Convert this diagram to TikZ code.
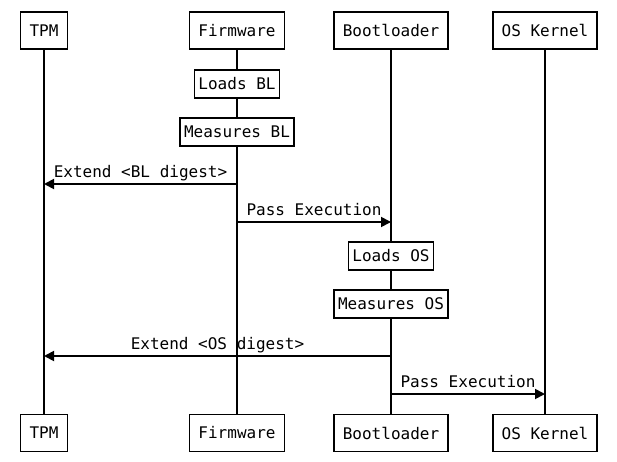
\documentclass[tikz,border=0pt]{standalone}
\usepackage{fontspec}
\setmainfont{DejaVu Sans Mono}
\usetikzlibrary{arrows.meta}

\tikzset{
  actor/.style={draw, line width=1.8pt, fill=white, minimum height=37pt,
    inner xsep=9pt, font=\fontsize{16}{19}\selectfont},
  task/.style={draw, line width=1.8pt, fill=white, minimum height=28pt,
    inner xsep=4pt, font=\fontsize{16}{19}\selectfont},
  life/.style={line width=1.8pt},
  msg/.style={line width=1.8pt, -{Triangle[length=10pt,width=10pt]}},
  msglabel/.style={above, inner sep=2pt, text depth=4pt,
    font=\fontsize{16}{19}\selectfont}
}

\begin{document}
\begin{tikzpicture}[x=1pt, y=-1pt]
\useasboundingbox (0,0) rectangle (617,462);
\pgfmathsetmacro{\xtpm}{44}
\pgfmathsetmacro{\xfw}{237}
\pgfmathsetmacro{\xbl}{391}
\pgfmathsetmacro{\xos}{545}
\pgfmathsetmacro{\ytop}{30.5}
\pgfmathsetmacro{\ybot}{433}

% actors, top and bottom
\node[actor] (tpmT) at (\xtpm, \ytop) {TPM};
\node[actor] (fwT) at (\xfw, \ytop) {Firmware};
\node[actor] (blT) at (\xbl, \ytop) {Bootloader};
\node[actor] (osT) at (\xos, \ytop) {OS Kernel};
\node[actor] (tpmB) at (\xtpm, \ybot) {TPM};
\node[actor] (fwB) at (\xfw, \ybot) {Firmware};
\node[actor] (blB) at (\xbl, \ybot) {Bootloader};
\node[actor] (osB) at (\xos, \ybot) {OS Kernel};

% lifelines
\draw[life] (tpmT) -- (tpmB);
\draw[life] (fwT) -- (fwB);
\draw[life] (blT) -- (blB);
\draw[life] (osT) -- (osB);

% firmware steps
\node[task] (loadsBL) at (\xfw, 84) {Loads BL};
\node[task] (measBL) at (\xfw, 132) {Measures BL};

\coordinate (fw1) at (\xfw, 184);
\coordinate (tpm1) at (\xtpm, 184);
\draw[msg] (fw1) -- node[msglabel]{Extend <BL digest>} (tpm1);

\coordinate (fw2) at (\xfw, 222);
\coordinate (bl2) at (\xbl, 222);
\draw[msg] (fw2) -- node[msglabel]{Pass Execution} (bl2);

% bootloader steps
\node[task] (loadsOS) at (\xbl, 256) {Loads OS};
\node[task] (measOS) at (\xbl, 304) {Measures OS};

\coordinate (bl3) at (\xbl, 356);
\coordinate (tpm3) at (\xtpm, 356);
\draw[msg] (bl3) -- node[msglabel]{Extend <OS digest>} (tpm3);

\coordinate (bl4) at (\xbl, 394);
\coordinate (os4) at (\xos, 394);
\draw[msg] (bl4) -- node[msglabel]{Pass Execution} (os4);
\end{tikzpicture}
\end{document}
